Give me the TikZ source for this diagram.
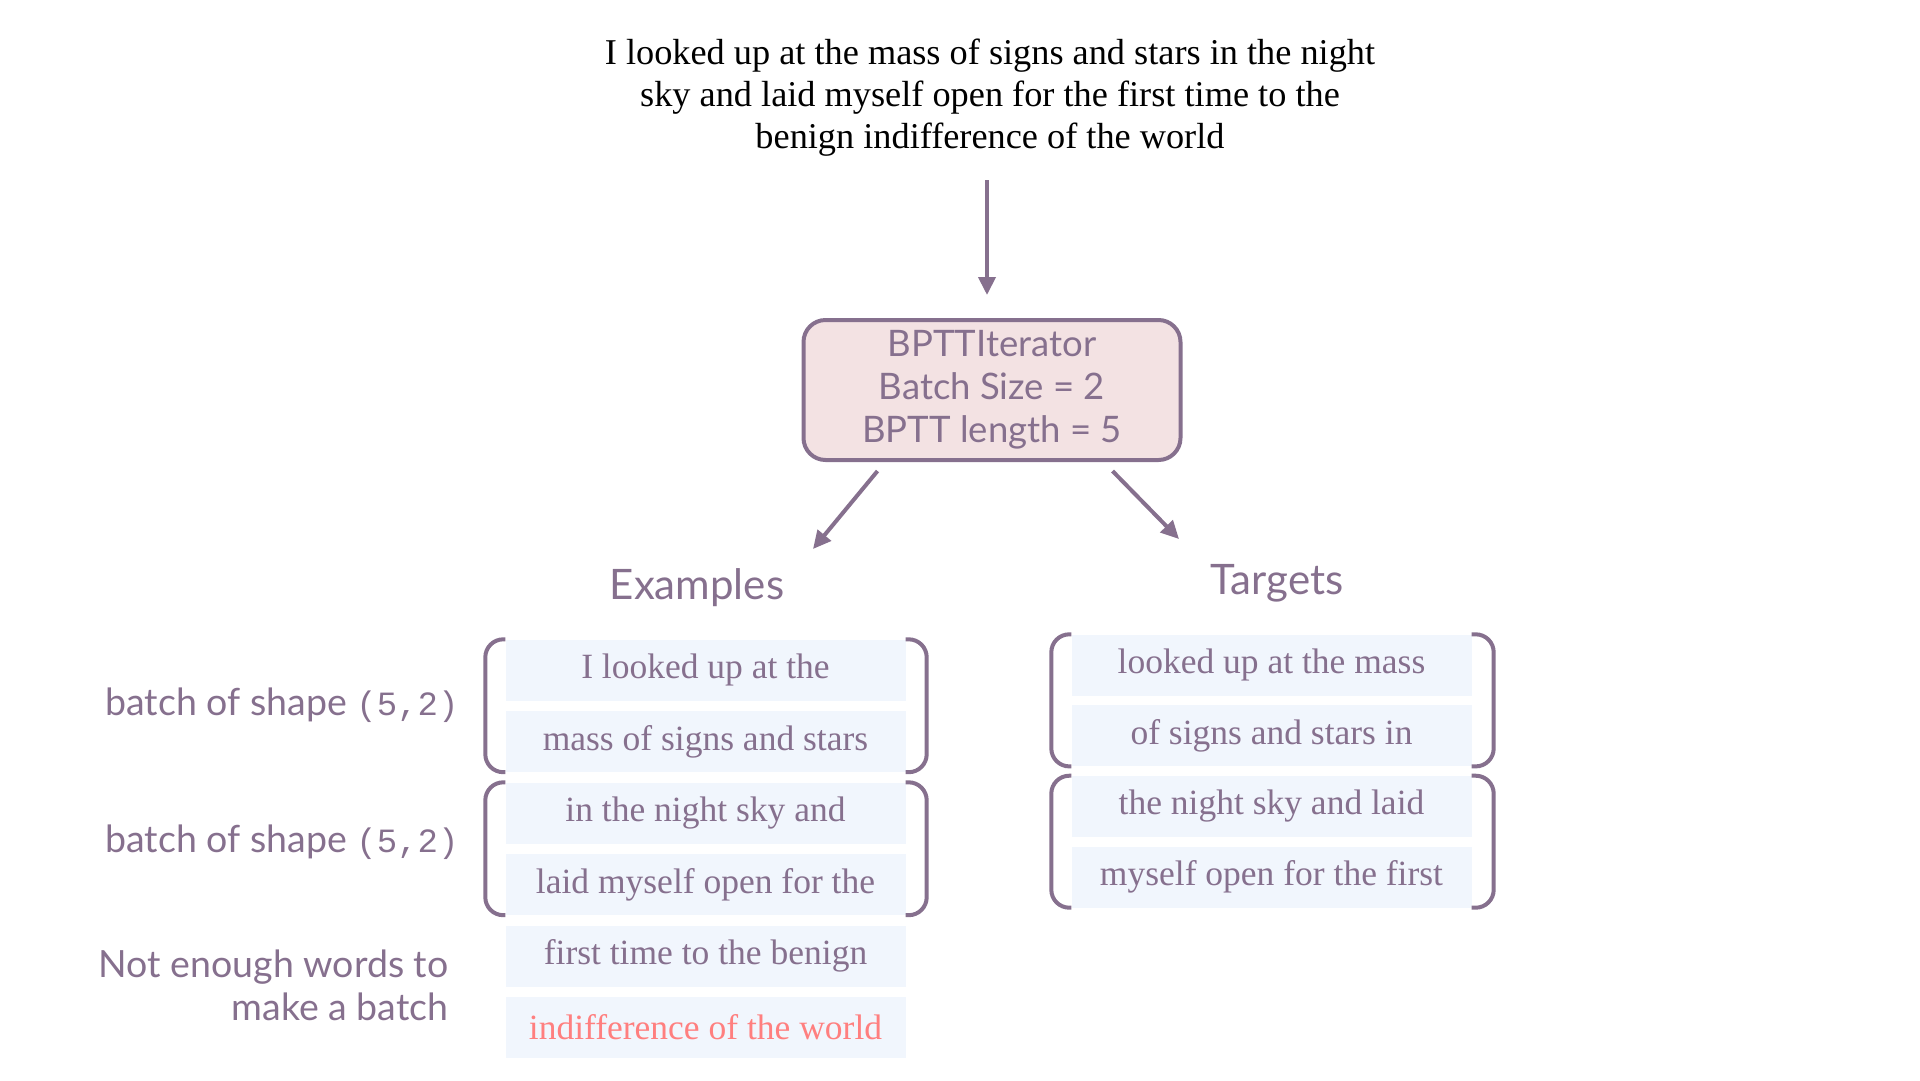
\documentclass[tikz,border=0pt]{standalone}
\usepackage{fontspec}
\setmainfont{Liberation Serif}
\setsansfont{Lato}
\setmonofont{Liberation Mono}
\usetikzlibrary{arrows.meta,positioning}
\definecolor{itpurple}{HTML}{86708E}
\definecolor{itpink}{HTML}{F3E2E3}
\definecolor{itcell}{HTML}{F1F6FD}
\definecolor{itred}{HTML}{FF7F7F}
\newcommand{\shpfont}{\ttfamily\fontsize{34}{43}\selectfont}

\begin{document}
\begin{tikzpicture}[
  x=1pt, y=-1pt,
  quote/.style={align=center, font=\rmfamily\fontsize{36.3}{42}\selectfont, text=black},
  iter/.style={draw=itpurple, fill=itpink, line width=4pt, rounded corners=22pt, align=center,
               minimum width=377pt, minimum height=140pt, inner sep=0pt,
               font=\sffamily\fontsize{36.5}{43}\selectfont, text=itpurple},
  cell/.style={fill=itcell, minimum width=400pt, minimum height=61pt, inner sep=0pt,
               font=\rmfamily\fontsize{35.5}{40}\selectfont, text=itpurple},
  head/.style={font=\sffamily\fontsize{42}{48}\selectfont, text=itpurple},
  side/.style={font=\sffamily\fontsize{37.5}{43}\selectfont, text=itpurple, align=right},
  brk/.style={draw=itpurple, line width=4pt, rounded corners=18pt},
  arr/.style={-{Triangle[length=18pt,width=17pt]}, itpurple, line width=4pt},
]
\useasboundingbox (0,0) rectangle (1920,1080);

% Sentence and iterator
\node[quote] (sent) at (990,98) {I looked up at the mass of signs and stars in the night\\
  sky and laid myself open for the first time to the\\ benign indifference of the world};
\node[iter] (bptt) at (992,390) {BPTTIterator\\Batch Size = 2\\BPTT length = 5};

\draw[arr, shorten <=20pt, shorten >=23pt] ([xshift=-5pt]bptt.north |- sent.south) -- ([xshift=-5pt]bptt.north);

% Column heads
\node[head] (exlbl) at (697,588) {Examples};
\node[head] (tglbl) at (1277,583) {Targets};
\coordinate (exin) at (813,549);
\coordinate (tgin) at (1179,539);
\draw[arr] ([xshift=76pt,yshift=-9pt]bptt.south west) -- (exin);
\draw[arr] ([xshift=-70pt,yshift=-9pt]bptt.south east) -- (tgin);

% Examples column
\node[cell] (ex1) at (705.5,670)    {I looked up at the};
\node[cell] (ex2) at (705.5,741.5)  {mass of signs and stars};
\node[cell] (ex3) at (705.5,813)    {in the night sky and};
\node[cell] (ex4) at (705.5,884.5)  {laid myself open for the};
\node[cell] (ex5) at (705.5,956)    {first time to the benign};
\node[cell, text=itred] (ex6) at (705.5,1027.5) {indifference of the world};

% Targets column
\node[cell] (tg1) at (1271.5,665)   {looked up at the mass};
\node[cell] (tg2) at (1271.5,735.7) {of signs and stars in};
\node[cell] (tg3) at (1271.5,806.4) {the night sky and laid};
\node[cell] (tg4) at (1271.5,877)   {myself open for the first};

% Batch brackets
\draw[brk] (ex1.north west) -| ([xshift=-20pt]ex2.south west) -- (ex2.south west);
\draw[brk] (ex1.north east) -| ([xshift=21pt]ex2.south east) -- (ex2.south east);
\draw[brk] (ex3.north west) -| ([xshift=-20pt]ex4.south west) -- (ex4.south west);
\draw[brk] (ex3.north east) -| ([xshift=21pt]ex4.south east) -- (ex4.south east);
\draw[brk] (tg1.north west) -| ([xshift=-20pt]tg2.south west) -- (tg2.south west);
\draw[brk] (tg1.north east) -| ([xshift=22pt]tg2.south east) -- (tg2.south east);
\draw[brk] (tg3.north west) -| ([xshift=-20pt]tg4.south west) -- (tg4.south west);
\draw[brk] (tg3.north east) -| ([xshift=22pt]tg4.south east) -- (tg4.south east);

% Side notes
\node[side, anchor=base east] (b1) at (462,715) {batch of shape {\shpfont(5,2)}};
\node[side, anchor=base east] (b2) at (462,852) {batch of shape {\shpfont(5,2)}};
\node[side, anchor=east] (rest) at (452,985) {Not enough words to\\make a batch};

\end{tikzpicture}
\end{document}
